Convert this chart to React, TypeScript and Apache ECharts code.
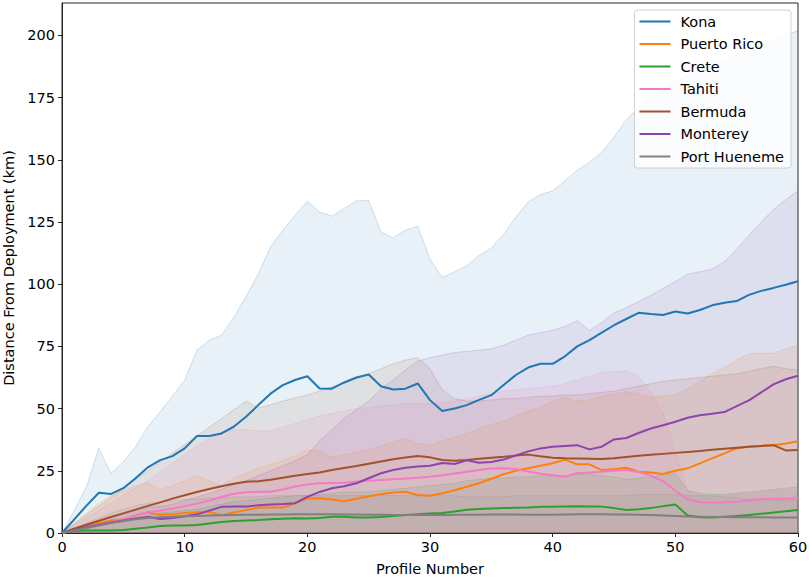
import React, { useEffect, useRef } from "react";
import * as echarts from "echarts";

const sites = ["Kona", "Puerto Rico", "Crete", "Tahiti", "Bermuda", "Monterey", "Port Hueneme"];
const colors = ["#1f77b4", "#ff7f0e", "#2ca02c", "#f47ac4", "#a0522d", "#8e44ad", "#808080"];
const yTicks = [0, 25, 50, 75, 100, 125, 150, 175, 200];
const xTicks = [0, 10, 20, 30, 40, 50, 60];

// mean distance per profile (profiles 0..60)
const konaMean = [0,5.5,11,16.2,15.7,18,22,26.4,29.3,30.9,34,39,39,40,42.7,46.7,51.4,56,59.4,61.5,63,58.1,58,60.5,62.5,63.7,59,57.7,58,60.1,53.4,49,50,51.4,53.5,55.4,59.5,63.5,66.5,68,68,71,75,77.5,80.5,83.5,86,88.5,88,87.6,89,88.2,89.6,91.5,92.5,93.2,95.7,97.3,98.5,99.8,101.2];
const puertoRicoMean = [0,1.5,3,4,5,5.5,7,8.2,7.3,7.5,8,8.3,8.5,7.1,8.2,9.2,10.2,10.2,10.2,11.9,13.9,14,13.5,12.8,13.8,14.8,15.6,16.3,16.6,15.3,15,16,17.2,18.6,20,21.8,23.6,25,26,27,28,29.5,27.6,27.6,25.3,25.6,26.2,24.6,24.3,23.7,25,26,28,30,32,34,34.8,35,35.3,36,36.9];
const creteMean = [0,0.8,1,1,1,1.2,1.7,2.2,2.8,3,3,3.2,3.8,4.4,4.8,5,5.2,5.5,5.7,5.9,5.8,6,6.5,6.5,6.2,6.2,6.4,6.8,7.2,7.5,7.8,8,8.6,9.3,9.6,9.8,10,10.1,10.2,10.5,10.5,10.7,10.8,10.7,10.6,10,9.2,9.5,10,10.8,11.5,7,6.3,6.2,6.5,6.8,7.2,7.7,8.2,8.7,9.2];
const tahitiMean = [0,1.2,2.4,3.4,4.3,5.5,7,8.3,8.9,9.8,10.8,11.8,13,14.5,15.8,16.4,16.6,16.6,17.5,18.7,19.5,20,20.1,20.2,20.6,21,21.3,21.6,21.9,22.2,22.6,23.2,23.9,24.6,25.3,25.9,26,25.7,24.7,23.8,23.2,22.6,24,24.3,24.6,25,25.3,24.5,23,20.8,17,13.5,12.4,12.2,12.4,12.6,13.2,13.7,13.8,13.8,13.9];
const bermudaMean = [0,1.7,3.3,4.9,6.4,7.9,9.4,10.9,12.3,13.8,15.2,16.5,17.7,18.8,19.8,20.6,20.8,21.4,22.2,23,23.7,24.3,25.3,26.1,26.9,27.8,28.7,29.6,30.3,30.9,30.4,29.3,29,29.3,29.8,30.2,30.6,31.1,31.5,30.8,30.2,30,29.9,29.8,29.7,30,30.5,31,31.4,31.8,32.2,32.6,33,33.5,33.9,34.3,34.7,35,35.3,33.2,33.4];
const montereyMean = [0,1.2,2.3,3.3,4.2,5,5.8,6.4,5.6,6,6.7,7.5,9,10.5,10.6,10.6,11.2,11.5,11.7,12,14.5,16.5,18,18.8,20,22,24,25.3,26.2,26.7,27,28.1,27.7,29.2,28.2,28.5,29.5,31.2,32.8,34,34.7,35,35.3,33.6,34.7,37.6,38.2,40.2,42,43.3,44.7,46.3,47.3,47.9,48.6,51,53.3,56.5,59.7,61.8,63.2];
const portHuenemeMean = [0,1,2,3,4,4.8,5.5,6,6.3,6.5,6.7,6.8,7,7.1,7.2,7.3,7.3,7.4,7.4,7.5,7.5,7.5,7.5,7.4,7.4,7.3,7.3,7.2,7.2,7.2,7.2,7.2,7.3,7.3,7.3,7.4,7.4,7.4,7.3,7.3,7.3,7.4,7.5,7.5,7.5,7.4,7.4,7.3,7.2,7,6.8,6.6,6.5,6.4,6.4,6.3,6.3,6.3,6.2,6.2,6.2];

// upper edge of the shaded spread (lower edge lies at or below 0)
const konaUpper = [0,9,18.6,34,24,28.6,34.7,42.7,48.7,55,61.4,73.5,77.5,79.5,86.5,95,104,115,121.7,127.7,133.3,129,127.3,130.4,133.5,133.6,121,118.6,121.7,123.3,110,102.7,104.9,107.5,111.5,114.5,120,127,133,136,137.5,141.5,145.8,149,153,159,166,171,174.5,178,181,184,186,188,190,192,194,196,198,200,202];
const puertoRicoUpper = [0,4,8,12,15,17,19,20,17.5,19,21,23,21,19,22,24,26,27.5,29,31,33.5,33,30.5,31.5,32.5,33.5,35,36.5,38,36,35.3,37,38.5,40,42,43.5,45,47,49,50.5,53,54.5,53,53.5,55,56,56.7,56,54.7,55,55.5,58,61,64,66.5,69.5,72,72.3,72.2,74,75.5];
const creteUpper = [0,2,3,4,4.5,5,6,7,8,8.5,9,9.5,10.5,11.5,12.5,13,13.5,14,14.5,15,15,15.5,16,16.5,16.5,16.5,17,17.5,18,18.5,19,19.5,20,21,21.5,22,22,22.5,22.5,23,23,23,23.5,23.5,23,22.5,21.5,22,22.5,23.5,24,17,16,15.5,15.5,16,16.5,17,17.5,18,18.5];
const tahitiUpper = [0,3,6,9,12,15,18,21,24.5,28,31.5,35,38,40.5,41.5,41.5,41,41,42.5,44,45.5,47,48,49,50,50.5,51,51.5,52,52,52,52.5,53,54,55,56,57,57.5,58,58.5,59,60,61.5,63,64.5,65,65,63,57,48,33,17,15,15,15,15.5,16,16.5,17,17,17];
const bermudaUpper = [0,3.6,7.2,10.8,14.4,18,21.6,25,28.5,32,35.5,39,42.5,46,49.5,53,50.3,51.5,53,54.3,55.5,57,58.8,60.2,62,64,66,68,69.5,70.5,66,57.5,54,53,53,53.5,54,54,54.5,55,55,55.5,55.5,56,56.5,57,58,59,60,61,61.5,62,62.5,63,63.5,64,65,66,67,66,65.5];
const montereyUpper = [0,2,3.5,5,6.5,8,9.5,10.5,10.5,11.5,13,14.5,16,17.5,19.5,21,23,25,27,29,31.5,37,41.5,46,49.5,53,58,61.5,65.5,69,70.5,71.5,72.5,73,73.5,74,75.5,77.5,79.5,80.5,81.5,83,85.3,81.5,84.5,88.5,90.5,93,95.5,98.3,101,104,105,106,109,114,119.7,125,130,134,137.5];
const portHuenemeUpper = [0,2,4,6,8,9.5,11,12,12.5,13,13.5,13.5,14,14,14.5,14.5,14.5,15,15,15,15,15,15,15,15,15,15,15,15,15,15,15,15,14.5,14.5,14.5,14.5,15,15,15,15,15,15,15,15,15,15,15.5,15.5,15.5,15.5,15,15,15,14.5,14,13.5,13,13,13,13];

const means = [konaMean, puertoRicoMean, creteMean, tahitiMean, bermudaMean, montereyMean, portHuenemeMean];
const uppers = [konaUpper, puertoRicoUpper, creteUpper, tahitiUpper, bermudaUpper, montereyUpper, portHuenemeUpper];

const FONT = "'DejaVu Sans', 'Liberation Sans', sans-serif";
const FS = 14.5;
// thin horizontal bar centred in a 31x14 box (tiny corner dots keep the box size)
const LEGEND_ICON =
  "path://M0,6h31v2h-31z M0,0h0.01v0.01h-0.01z M30.99,13.99h0.01v0.01h-0.01z";

function hexA(hex: string, a: number) {
  const n = parseInt(hex.slice(1), 16);
  return `rgba(${(n >> 16) & 255},${(n >> 8) & 255},${n & 255},${a})`;
}

export default function App() {
  const ref = useRef<HTMLDivElement>(null);
  useEffect(() => {
    if (!ref.current) return;
    const chart = echarts.init(ref.current, null, { renderer: "svg" });
    const toPairs = (arr: number[]) => arr.map((v, i) => [i, v]);
    const bandSeries = sites.map((s, k) => ({
      name: s + " spread",
      type: "line",
      data: toPairs(uppers[k]),
      symbol: "none",
      silent: true,
      z: 1,
      lineStyle: { color: hexA(colors[k], 0.2), width: 1 },
      areaStyle: { color: hexA(colors[k], 0.15), origin: "start" },
    }));
    const lineSeries = sites.map((s, k) => ({
      name: s,
      type: "line",
      data: toPairs(means[k]),
      symbol: "none",
      z: 3,
      color: colors[k],
      lineStyle: { color: colors[k], width: 2 },
    }));
    chart.setOption({
      animation: false,
      backgroundColor: "#ffffff",
      textStyle: { fontFamily: FONT },
      grid: {
        left: 62,
        right: 11,
        top: 3,
        bottom: 44,
        containLabel: false,
        outerBoundsMode: "none",
        show: true,
        borderColor: "#262626",
        borderWidth: 1,
        backgroundColor: "transparent",
      },
      legend: {
        orient: "vertical",
        right: 18,
        top: 10,
        data: sites.map((s) => ({ name: s, icon: LEGEND_ICON })),
        itemWidth: 31,
        itemHeight: 14,
        itemGap: 7.5,
        padding: [4, 7, 4, 5],
        backgroundColor: "rgba(255,255,255,0.8)",
        borderColor: "#d0d0d0",
        borderWidth: 1,
        borderRadius: 3,
        textStyle: { fontFamily: FONT, fontSize: FS, color: "#000", padding: [0, 0, 0, 5] },
      },
      xAxis: {
        type: "value",
        min: xTicks[0],
        max: xTicks[xTicks.length - 1],
        interval: 10,
        name: "Profile Number",
        nameLocation: "middle",
        nameGap: 28,
        nameTextStyle: { fontFamily: FONT, fontSize: FS, color: "#000" },
        axisLine: { show: true, lineStyle: { color: "#262626", width: 1 } },
        axisTick: { show: true, inside: false, length: 4, lineStyle: { color: "#262626" } },
        axisLabel: { fontFamily: FONT, fontSize: FS, color: "#000", margin: 6 },
        splitLine: { show: false },
      },
      yAxis: {
        type: "value",
        min: yTicks[0],
        max: 213,
        interval: 25,
        name: "Distance From Deployment (km)",
        nameLocation: "middle",
        nameGap: 41,
        nameTextStyle: { fontFamily: FONT, fontSize: FS, color: "#000" },
        axisLine: { show: true, lineStyle: { color: "#262626", width: 1 } },
        axisTick: { show: true, inside: false, length: 4, lineStyle: { color: "#262626" } },
        axisLabel: {
          fontFamily: FONT,
          fontSize: FS,
          color: "#000",
          margin: 7,
          showMaxLabel: false,
          formatter: (v: number) => (yTicks.includes(v) ? String(v) : ""),
        },
        splitLine: { show: false },
      },
      series: [...bandSeries, ...lineSeries],
    });
    return () => chart.dispose();
  }, []);
  return (
    <div
      ref={ref}
      style={{ position: "absolute", left: 0, top: 0, width: 809, height: 577 }}
    />
  );
}
